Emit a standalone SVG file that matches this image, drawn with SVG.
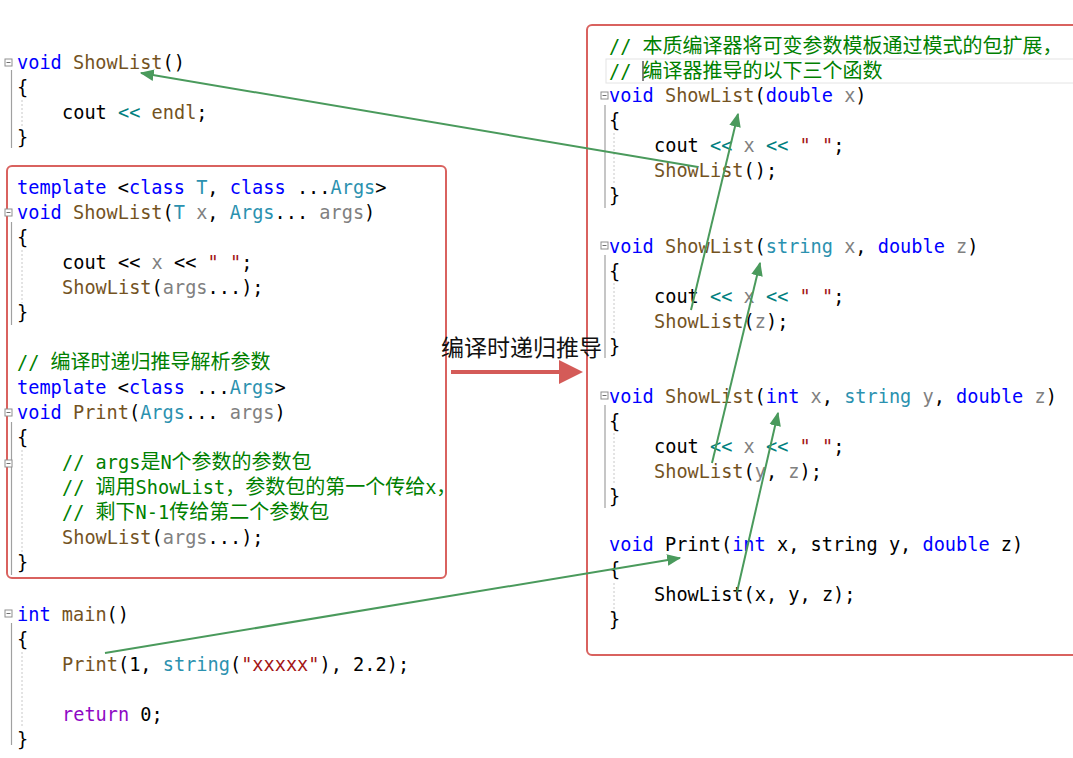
<svg xmlns="http://www.w3.org/2000/svg" width="1073" height="758" viewBox="0 0 1073 758" xml:space="preserve">
<style>
text.c{font-family:"DejaVu Sans Mono","Liberation Mono","Noto Sans CJK SC",monospace;font-size:18.6px;fill:#000}
.k{fill:#0000ff}.f{fill:#74531f}.t{fill:#2b91af}.p{fill:#808080}.s{fill:#a31515}.r{fill:#8f08c4}.o{fill:#008080}
text.c.g{fill:#008000}
.cj{font-family:"Noto Sans CJK SC",sans-serif;font-size:20px}
.box{fill:none;stroke:#d9625f;stroke-width:2}
.gut{stroke:#a0a0a0;stroke-width:1.2;fill:none}
.dash{stroke:#c8c8c8;stroke-width:1;stroke-dasharray:2 2;fill:none}
.mk{fill:#fff;stroke:#909090;stroke-width:1}
.conn{stroke:#4a9a5c;stroke-width:2;fill:none;marker-end:url(#ga)}
</style>
<defs>
<marker id="ga" viewBox="0 0 12 10" refX="11" refY="5" markerWidth="14" markerHeight="12" markerUnits="userSpaceOnUse" orient="auto"><path d="M0,0 L12,5 L0,10 z" fill="#4a9a5c"/></marker>
<g id="fold"><rect class="mk" x="0" y="0" width="7" height="7"/><line x1="1.5" y1="3.5" x2="5.5" y2="3.5" stroke="#707070" stroke-width="1"/></g>
</defs>
<rect width="1073" height="758" fill="#fff"/>

<g id="node-showlist-empty">
<use href="#fold" x="5" y="59"/>
<line class="gut" x1="11.5" y1="70" x2="11.5" y2="148"/>
<line class="dash" x1="22" y1="100" x2="22" y2="128"/>
<text class="c" x="17" y="69"><tspan class="k">void</tspan> <tspan class="f">ShowList</tspan>()</text>
<text class="c" x="17" y="94">{</text>
<text class="c" x="62" y="119">cout <tspan class="o">&lt;&lt;</tspan> <tspan class="f">endl</tspan>;</text>
<text class="c" x="17" y="144">}</text>
</g>

<g id="node-templates">
<rect class="box" x="7" y="166" width="439" height="412" rx="5"/>
<use href="#fold" x="5" y="209"/>
<line class="gut" x1="11.5" y1="222" x2="11.5" y2="325"/>
<line class="dash" x1="22" y1="250" x2="22" y2="303"/>
<use href="#fold" x="5" y="409"/>
<line class="gut" x1="11.5" y1="422" x2="11.5" y2="575"/>
<line class="dash" x1="22" y1="450" x2="22" y2="553"/>
<use href="#fold" x="5" y="460"/>
<text class="c" x="17" y="194"><tspan class="k">template</tspan> &lt;<tspan class="k">class</tspan> <tspan class="t">T</tspan>, <tspan class="k">class</tspan> ...<tspan class="t">Args</tspan>&gt;</text>
<text class="c" x="17" y="219"><tspan class="k">void</tspan> <tspan class="f">ShowList</tspan>(<tspan class="t">T</tspan> <tspan class="p">x</tspan>, <tspan class="t">Args</tspan>... <tspan class="p">args</tspan>)</text>
<text class="c" x="17" y="244">{</text>
<text class="c" x="62" y="269">cout &lt;&lt; <tspan class="p">x</tspan> &lt;&lt; <tspan class="s">" "</tspan>;</text>
<text class="c" x="62" y="294"><tspan class="f">ShowList</tspan>(<tspan class="p">args</tspan>...);</text>
<text class="c" x="17" y="319">}</text>
<text class="c g" x="17" y="369">// <tspan class="cj">编译时递归推导解析参数</tspan></text>
<text class="c" x="17" y="394"><tspan class="k">template</tspan> &lt;<tspan class="k">class</tspan> ...<tspan class="t">Args</tspan>&gt;</text>
<text class="c" x="17" y="419"><tspan class="k">void</tspan> <tspan class="f">Print</tspan>(<tspan class="t">Args</tspan>... <tspan class="p">args</tspan>)</text>
<text class="c" x="17" y="444">{</text>
<text class="c g" x="62" y="469">// args<tspan class="cj">是</tspan>N<tspan class="cj">个参数的参数包</tspan></text>
<text class="c g" x="62" y="494">// <tspan class="cj">调用</tspan>ShowList<tspan class="cj">，参数包的第一个传给</tspan>x<tspan class="cj">，</tspan></text>
<text class="c g" x="62" y="519">// <tspan class="cj">剩下</tspan>N-1<tspan class="cj">传给第二个参数包</tspan></text>
<text class="c" x="62" y="544"><tspan class="f">ShowList</tspan>(<tspan class="p">args</tspan>...);</text>
<text class="c" x="17" y="569">}</text>
</g>

<g id="node-main">
<use href="#fold" x="5" y="610"/>
<line class="gut" x1="11.5" y1="623" x2="11.5" y2="745"/>
<line class="dash" x1="22" y1="652" x2="22" y2="728"/>
<text class="c" x="17" y="621"><tspan class="k">int</tspan> <tspan class="f">main</tspan>()</text>
<text class="c" x="17" y="646">{</text>
<text class="c" x="62" y="671"><tspan class="f">Print</tspan>(1, <tspan class="t">string</tspan>(<tspan class="s">"xxxxx"</tspan>), 2.2);</text>
<text class="c" x="62" y="721"><tspan class="r">return</tspan> 0;</text>
<text class="c" x="17" y="746">}</text>
</g>

<g id="node-expanded">
<rect class="box" x="587" y="25" width="500" height="630" rx="5"/>
<rect x="606" y="59" width="470" height="24" fill="none" stroke="#e4e4e4" stroke-width="1"/>
<line x1="643" y1="61" x2="643" y2="81" stroke="#000" stroke-width="1"/>
<use href="#fold" x="601" y="92"/>
<line class="gut" x1="605" y1="105" x2="605" y2="208"/>
<line class="dash" x1="614" y1="133" x2="614" y2="184"/>
<use href="#fold" x="601" y="242"/>
<line class="gut" x1="605" y1="255" x2="605" y2="358"/>
<line class="dash" x1="614" y1="283" x2="614" y2="334"/>
<use href="#fold" x="601" y="392"/>
<line class="gut" x1="605" y1="405" x2="605" y2="508"/>
<line class="dash" x1="614" y1="433" x2="614" y2="484"/>
<line class="dash" x1="614" y1="583" x2="614" y2="630"/>
<text class="c g" x="609" y="53">// <tspan class="cj">本质编译器将可变参数模板通过模式的包扩展，</tspan></text>
<text class="c g" x="609" y="78">// <tspan class="cj">编译器推导的以下三个函数</tspan></text>
<text class="c" x="609" y="102"><tspan class="k">void</tspan> <tspan class="f">ShowList</tspan>(<tspan class="k">double</tspan> <tspan class="p">x</tspan>)</text>
<text class="c" x="609" y="127">{</text>
<text class="c" x="654" y="152">cout <tspan class="o">&lt;&lt;</tspan> <tspan class="p">x</tspan> <tspan class="o">&lt;&lt;</tspan> <tspan class="s">" "</tspan>;</text>
<text class="c" x="654" y="177"><tspan class="f">ShowList</tspan>();</text>
<text class="c" x="609" y="202">}</text>
<text class="c" x="609" y="253"><tspan class="k">void</tspan> <tspan class="f">ShowList</tspan>(<tspan class="t">string</tspan> <tspan class="p">x</tspan>, <tspan class="k">double</tspan> <tspan class="p">z</tspan>)</text>
<text class="c" x="609" y="278">{</text>
<text class="c" x="654" y="303">cout <tspan class="o">&lt;&lt;</tspan> <tspan class="p">x</tspan> <tspan class="o">&lt;&lt;</tspan> <tspan class="s">" "</tspan>;</text>
<text class="c" x="654" y="328"><tspan class="f">ShowList</tspan>(<tspan class="p">z</tspan>);</text>
<text class="c" x="609" y="353">}</text>
<text class="c" x="609" y="403"><tspan class="k">void</tspan> <tspan class="f">ShowList</tspan>(<tspan class="k">int</tspan> <tspan class="p">x</tspan>, <tspan class="t">string</tspan> <tspan class="p">y</tspan>, <tspan class="k">double</tspan> <tspan class="p">z</tspan>)</text>
<text class="c" x="609" y="428">{</text>
<text class="c" x="654" y="453">cout <tspan class="o">&lt;&lt;</tspan> <tspan class="p">x</tspan> <tspan class="o">&lt;&lt;</tspan> <tspan class="s">" "</tspan>;</text>
<text class="c" x="654" y="478"><tspan class="f">ShowList</tspan>(<tspan class="p">y</tspan>, <tspan class="p">z</tspan>);</text>
<text class="c" x="609" y="503">}</text>
<text class="c" x="609" y="551"><tspan class="k">void</tspan> Print(<tspan class="k">int</tspan> x, string y, <tspan class="k">double</tspan> z)</text>
<text class="c" x="609" y="576">{</text>
<text class="c" x="654" y="601">ShowList(x, y, z);</text>
<text class="c" x="609" y="626">}</text>
</g>

<g id="node-label">
<text x="441" y="356" style="font-family:'Noto Sans CJK SC',sans-serif;font-size:23px;fill:#111">编译时递归推导</text>
</g>

<g id="connectors">
<line x1="451" y1="372" x2="562" y2="372" stroke="#d45b58" stroke-width="4"/>
<polygon points="559,360 583,372 559,384" fill="#d45b58"/>
<line class="conn" x1="698" y1="167" x2="141" y2="73"/>
<line class="conn" x1="691" y1="310" x2="738" y2="114"/>
<line class="conn" x1="712" y1="463" x2="760" y2="263"/>
<line class="conn" x1="737" y1="592" x2="778" y2="413"/>
<line class="conn" x1="105" y1="653" x2="680" y2="558"/>
</g>
</svg>
